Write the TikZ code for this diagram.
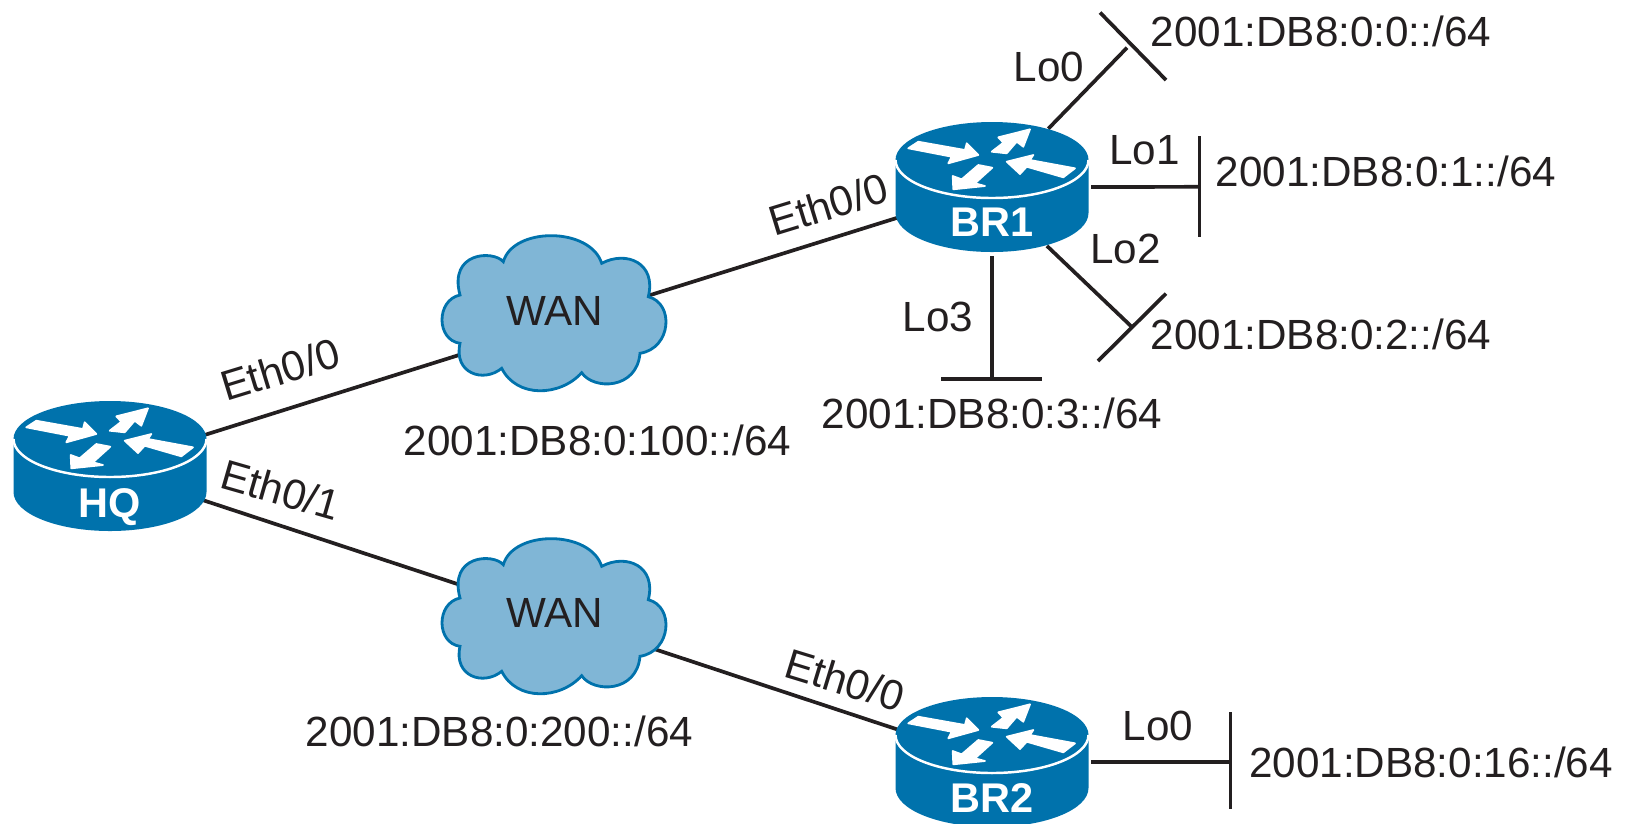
\documentclass[tikz,border=0pt]{standalone}
\usepackage{fontspec}
\setmainfont{Liberation Sans}
\usetikzlibrary{shapes.geometric}
\definecolor{routerblue}{RGB}{0,114,172}
\definecolor{cloudfill}{RGB}{128,182,214}
\definecolor{inktext}{RGB}{35,31,32}
\tikzset{
    link/.style={draw=inktext,line width=1.05pt},
    routerspot/.style={ellipse,minimum width=2.1cm,minimum height=1.38cm,inner sep=0pt,outer sep=0pt},
    cloudspot/.style={circle,minimum size=2pt,inner sep=0pt,outer sep=0pt},
    tag/.style={text=inktext,font=\fontsize{12}{14}\selectfont},
    routertext/.style={text=white,font=\fontsize{11.8}{13}\selectfont\bfseries},
    glyph/.style={fill=white,draw=white,line width=0.5pt,line join=round},
    routericon/.pic={
        \fill[routerblue] (-96.5,-27) arc[start angle=180,end angle=360,x radius=96.5,y radius=38]
            -- (96.5,26) arc[start angle=0,end angle=180,x radius=96.5,y radius=39] -- cycle;
        \draw[white,line width=0.7pt] (-96.5,-27) arc[start angle=180,end angle=0,x radius=96.5,y radius=38];
        \path[glyph] (-83.7,-38.7) -- (-73.7,-45.3) -- (-27,-37) -- (-25.3,-43.7) -- (-13.7,-32) -- (-43.7,-23.7) -- (-40.3,-30.3) -- cycle;
        \path[glyph] (-0.3,-35.3) -- (11.3,-44.3) -- (6.3,-49.7) -- (38,-57.7) -- (31.3,-40.3) -- (24.7,-45.3) -- (14.7,-33.7) -- cycle;
        \path[glyph] (14.7,-25.3) -- (41.3,-32) -- (38,-27) -- (83,-18.7) -- (71.3,-9.7) -- (34.7,-20.3) -- (28,-13) -- cycle;
        \path[glyph] (-38.7,2.3) -- (-39.3,-11) -- (-30.3,-7.7) -- (-13.7,-22) -- (0.3,-19.3) -- (-17,-3.7) -- (-7,-1) -- cycle;
    },
    cloudicon/.pic={
        \draw[fill=cloudfill,draw=routerblue,line width=0.8pt] (-51.2,-51.3)
            .. controls (-41.2,-86.3) and (35.5,-86.3) .. (47.2,-49.7)
            .. controls (72.2,-63) and (102.2,-49.7) .. (93.8,-16.3)
            .. controls (120,-9.7) and (117,35.3) .. (85.5,40.3)
            .. controls (82.2,77) and (38.8,77) .. (27.2,59.7)
            .. controls (5.5,83.7) and (-37.8,85.3) .. (-52.8,55.3)
            .. controls (-71.2,70.3) and (-101.2,60.3) .. (-94.5,30.3)
            .. controls (-118.5,27) and (-118.5,-13) .. (-94.5,-18)
            .. controls (-106.2,-61.3) and (-61.2,-63) .. (-51.2,-51.3) -- cycle;
    }
}
\begin{document}
\begin{tikzpicture}[x=0.01cm,y=-0.01cm]
            \useasboundingbox (0,0) rectangle (1627,823);
            \foreach \nm/\px/\py in {HQ/109/466,BR1/992/187,BR2/992/762}
                \node[routerspot] (\nm) at (\px,\py) {};
            \node[cloudspot] (WANa) at (554.5,325) {};
            \node[cloudspot] (WANb) at (554.5,616) {};
            \coordinate (loA) at (1127,47.7);
            \coordinate (loAa) at (1100,12.5);
            \coordinate (loAb) at (1166,80);
            \coordinate (loB) at (1199.5,186.8);
            \coordinate (loBa) at (1199.5,136);
            \coordinate (loBb) at (1199.5,236.6);
            \coordinate (loC) at (1133,328);
            \coordinate (loCa) at (1166,293.6);
            \coordinate (loCb) at (1098,361);
            \coordinate (loD) at (992,378.7);
            \coordinate (loDa) at (941,378.7);
            \coordinate (loDb) at (1042,378.7);
            \coordinate (loE) at (1230.6,762);
            \coordinate (loEa) at (1230.6,712);
            \coordinate (loEb) at (1230.6,809);
            \draw[link,shorten <=-0.04cm] (HQ.18.5)--(WANa);
            \draw[link] (WANa)--(BR1.198.7);
            \draw[link,shorten <=-0.04cm] (HQ.-20)--(WANb);
            \draw[link] (WANb)--(BR2.161.5);
            \draw[link] (BR1.46)--(loA);
            \draw[link,shorten <=-0.06cm] (BR1.0)--(loB);
            \draw[link] (BR1.-47)--(loC);
            \draw[link] (BR1.-90)--(loD);
            \draw[link,shorten <=-0.06cm] (BR2.0)--(loE);
            \foreach \ba/\bb in {loAa/loAb,loBa/loBb,loCa/loCb,loDa/loDb,loEa/loEb}
                \draw[link] (\ba)--(\bb);
            \foreach \nm/\px/\py/\ly in {HQ/110/466/41,BR1/992/187/35,BR2/992/762/36}{
                \pic at (\px,\py) {routericon};
                \node[routertext] (\nm-text) at (\px,\py+\ly) {\nm};
            }
            \pic at (554.5,313) {cloudicon};
            \pic at (554.5,616) {cloudicon};
            \node[tag] (WANa-text) at (554.5,311) {WAN};
            \node[tag] (WANb-text) at (554.5,613) {WAN};
            \node[tag,rotate=17] (ethHQa) at (280,369.4) {Eth0/0};
            \node[tag,rotate=-16] (ethHQb) at (281,490) {Eth0/1};
            \node[tag,rotate=17] (ethBRa) at (828,204.4) {Eth0/0};
            \node[tag,rotate=-17] (ethBRb) at (845,680) {Eth0/0};
            \node[tag] (labLoA) at (1049,67.4) {Lo0};
            \node[tag] (labLoB) at (1144.5,150.5) {Lo1};
            \node[tag] (labLoC) at (1125.5,249) {Lo2};
            \node[tag] (labLoD) at (938,316.5) {Lo3};
            \node[tag] (labLoE) at (1158,726.3) {Lo0};
            \node[tag] (addrA) at (1321,31) {2001:DB8:0:0::/64};
            \node[tag] (addrB) at (1386,171) {2001:DB8:0:1::/64};
            \node[tag] (addrC) at (1321,334) {2001:DB8:0:2::/64};
            \node[tag] (addrD) at (992,413) {2001:DB8:0:3::/64};
            \node[tag] (addrE) at (1431,762.6) {2001:DB8:0:16::/64};
            \node[tag] (addrWANa) at (597.5,440) {2001:DB8:0:100::/64};
            \node[tag] (addrWANb) at (499.5,731.5) {2001:DB8:0:200::/64};
        \end{tikzpicture}
\end{document}
